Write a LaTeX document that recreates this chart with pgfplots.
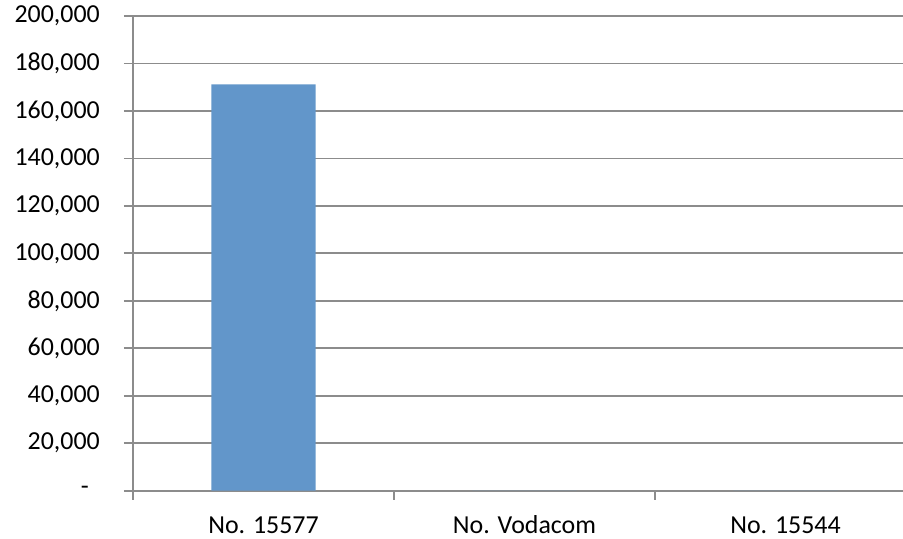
\documentclass[border=0pt]{standalone}
\usepackage{pgfplots}
\pgfplotsset{compat=1.18}
\usepackage{fontspec}
\setmainfont{Carlito}
\definecolor{barblue}{RGB}{98,150,202}
\definecolor{gridgray}{RGB}{140,140,140}
\begin{document}
\begin{tikzpicture}
\begin{axis}[
  scale only axis,
  width=770bp, height=474.7bp,
  xmin=-0.5, xmax=2.45, ymin=0, ymax=200000,
  scaled y ticks=false,
  axis x line*=bottom, axis y line*=left,
  axis line style={gridgray, line width=1.8bp, -},
  tick align=outside,
  xtick pos=bottom, ytick pos=left,
  major tick length=9bp,
  tick style={gridgray, line width=1.8bp},
  ymajorgrids=true,
  grid style={gridgray, line width=1.8bp},
  ytick={0,20000,40000,60000,80000,100000,120000,140000,160000,180000,200000},
  yticklabels={{-\hspace*{11bp}},{20,000},{40,000},{60,000},{80,000},{100,000},{120,000},{140,000},{160,000},{180,000},{200,000}},
  xtick={-0.5,0.5,1.5},
  xticklabels={},
  extra x ticks={0,1,2},
  extra x tick labels={No. 15577,No. Vodacom,No. 15544},
  extra x tick style={major tick length=0pt, grid=none,
    xticklabel style={anchor=base, yshift=-42.5bp}},
  tick label style={font=\fontsize{26}{31}\selectfont, text=black, inner sep=0pt},
  yticklabel style={anchor=east, xshift=-24bp},
  clip=false,
]
\addplot[ybar, bar width=104.4bp, fill=barblue, draw=none] coordinates {(0,171200) (1,0) (2,0)};
\coordinate (bl) at (rel axis cs:0,0);
\coordinate (tr) at (rel axis cs:1,1);
\end{axis}
\pgfresetboundingbox
\path ([shift={(-133bp,-48.3bp)}]bl) rectangle ([shift={(0bp,16bp)}]tr);
\end{tikzpicture}
\end{document}
